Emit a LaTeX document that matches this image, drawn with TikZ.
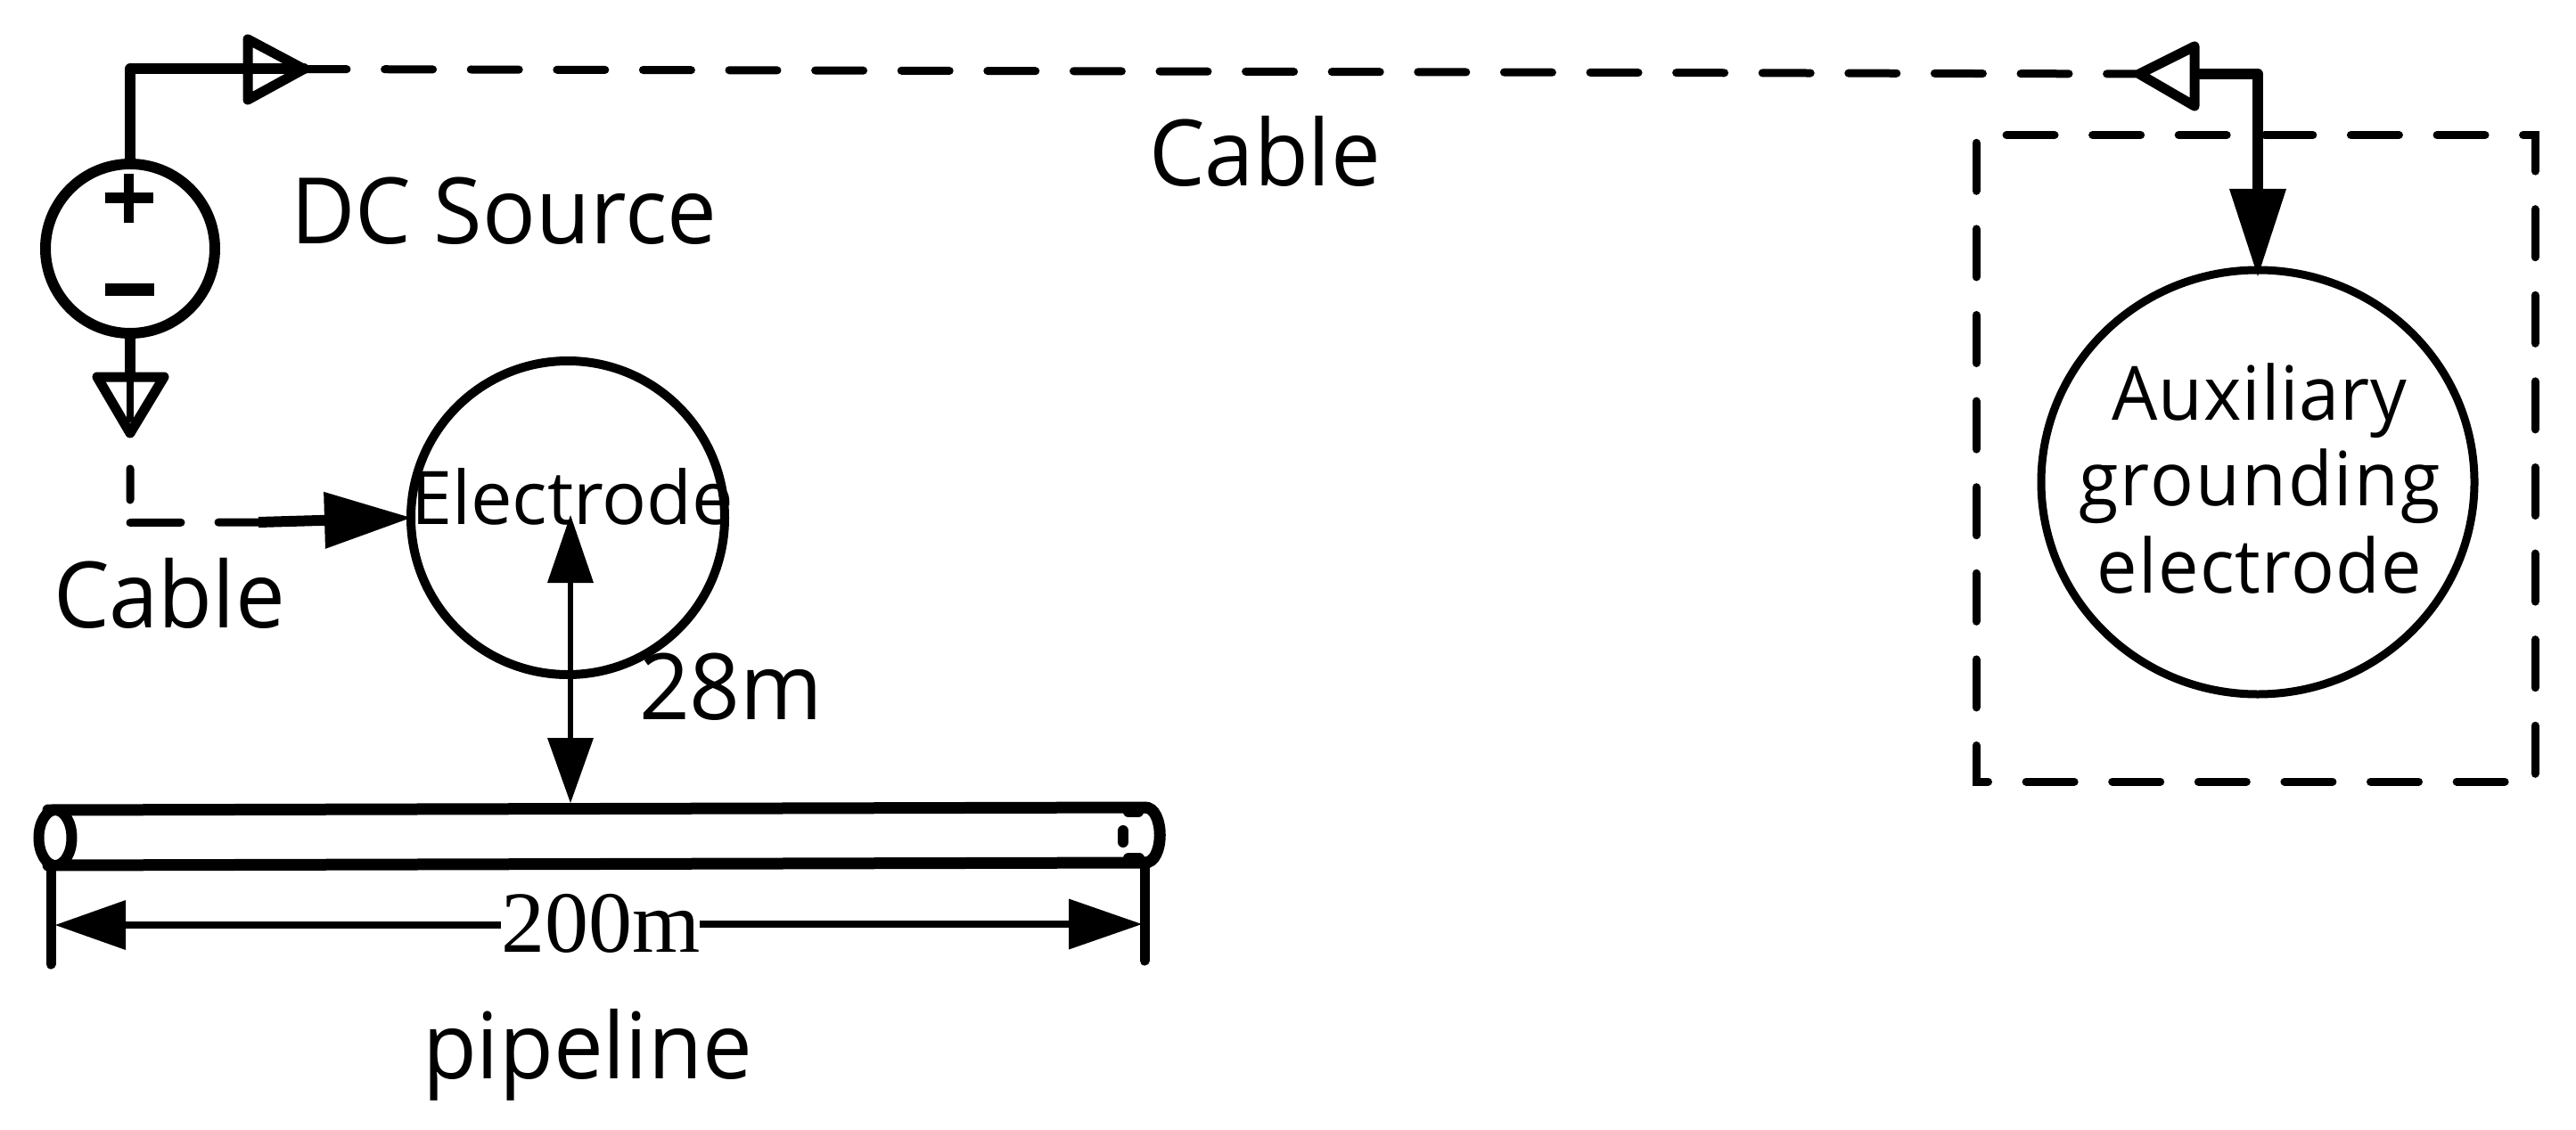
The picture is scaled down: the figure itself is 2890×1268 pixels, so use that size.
\documentclass[tikz,border=0pt]{standalone}
\usepackage{fontspec}
\setmainfont[FakeStretch=0.965]{Open Sans}
\newfontfamily\plainsans{Open Sans}
\newfontfamily\serifnum{Liberation Serif}
\usetikzlibrary{arrows.meta,shapes.geometric}
\tikzset{
  x=1pt,y=-1pt,
  wire/.style={draw=black,line width=12pt,line cap=round,line join=round},
  thin wire/.style={draw=black,line width=8pt,line cap=round,line join=round},
  cable/.style={draw=black,line width=9pt,line cap=round,dash pattern=on 54pt off 42.6pt},
  opentip/.style={draw=black,line width=11pt,line join=round,fill=none},
  solidtip/.style={-{Triangle[length=#1,width=64pt,line width=0pt]}},
  dot/.style={circle,draw=black,inner sep=0pt,outer sep=0pt},
  label/.style={inner sep=0pt,outer sep=0pt,anchor=base west,text=black},
  big/.style={label,font=\fontsize{103}{110}\selectfont},
  mid/.style={label,font=\fontsize{84}{97}\selectfont},
}
\begin{document}
\begin{tikzpicture}
\useasboundingbox (0,0) rectangle (2890,1268);
% source
\node[dot,line width=12pt,minimum size=190pt] (src) at (146,279) {};
\coordinate (pa) at (118,222); \coordinate (pb) at (172,222);
\coordinate (pc) at (144,195); \coordinate (pd) at (144,250);
\coordinate (ma) at (118,325); \coordinate (mb) at (173,325);
\draw[line width=12pt] (pa) -- (pb);
\draw[line width=11pt] (pc) -- (pd);
\draw[line width=14pt] (ma) -- (mb);
% top cable
\coordinate (srccorner) at (146,77.5);
\coordinate (ttip) at (341,77.5);
\coordinate (tb1) at (278,44); \coordinate (tb2) at (278,112);
\draw[wire] (src.north) -- (srccorner) -- (ttip);
\draw[opentip] (tb1) -- (ttip) -- (tb2) -- cycle;
\coordinate (rtip) at (2400,83);
\coordinate (rb1) at (2462,52); \coordinate (rb2) at (2462,119);
\coordinate (rcorner) at (2533,83);
\draw[cable,dash phase=6pt] (ttip) -- (rtip);
\draw[opentip] (rb1) -- (rtip) -- (rb2) -- cycle;
% auxiliary
\node[ellipse,draw=black,line width=9pt,minimum width=486pt,minimum height=476pt,inner sep=0pt] (aux) at (2533,541) {};
\coordinate (auxtip) at (2533,310);
\coordinate (rbase) at (2462,83);
\draw[wire,line cap=butt,solidtip=98pt] (rbase) -- (rcorner) -- (auxtip);
\node[mid,anchor=base] (auxa) at (2535,471) {\addfontfeature{LetterSpace=1}Auxiliary};
\node[mid,anchor=base] (auxb) at (2535,567) {\addfontfeature{LetterSpace=2.5}grounding};
\node[mid,anchor=base] (auxc) at (2535,665) {\addfontfeature{LetterSpace=1.5}electrode};
% dashed box
\coordinate (ba) at (2251,151.5); \coordinate (bb) at (2844,151.5);
\coordinate (bc) at (2844,877); \coordinate (bd) at (2217,877);
\coordinate (be) at (2217,151.5);
\draw[cable,line join=miter] (ba) -- (bb) -- (bc) -- (bd) -- (be);
% lower wire
\coordinate (ltip) at (146,486);
\coordinate (lb1) at (109,423); \coordinate (lb2) at (184,423);
\coordinate (lwire) at (146,470);
\coordinate (lbase) at (146,423);
\draw[thin wire,line width=12pt,line cap=butt] (src.south) -- (lbase);
\draw[thin wire] (lbase) -- (lwire);
\draw[opentip] (lb1) -- (ltip) -- (lb2) -- cycle;
% electrode
\node[dot,line width=10pt,minimum size=352pt] (elec) at (637,581) {};
\coordinate (dstart) at (146,526); \coordinate (dcorner) at (146,586.5);
\coordinate (dthick) at (290,586);
\draw[line width=9pt,line cap=round,dash pattern=on 35pt off 25.5pt on 57pt off 42pt on 400pt off 0pt]
  (dstart) -- (dcorner) -- (dthick);
\draw[line width=12pt,solidtip=97pt] (dthick) -- (elec.west);
\node[label,font=\plainsans\fontsize{83}{90}\selectfont] (elabel) at (461,588) {Electrode};
% labels
\node[big] (dc) at (326,273) {DC Source};
\node[big] (c1) at (1289,208) {Cable};
\node[big] (c2) at (60,704) {Cable};
\node[big] (m28) at (717,807) {28m};
\node[big] (pipe) at (474,1210) {pipeline};
% 28 m arrows
\coordinate (pipetop) at (640,901);
\coordinate (etip) at (640,578);
\draw[line width=6pt,{Triangle[length=76pt,width=52pt,line width=0pt]}-{Triangle[length=73pt,width=52pt,line width=0pt]}] (etip) -- (pipetop);
% pipeline
\coordinate (pl1) at (54,909); \coordinate (pr1) at (1284,906);
\coordinate (pl2) at (54,971); \coordinate (pr2) at (1284,968);
\draw[line width=13pt,line cap=round] (pl1) -- (pr1);
\draw[line width=13pt,line cap=round] (pl2) -- (pr2);
\node[ellipse,draw=black,line width=12pt,minimum width=37pt,minimum height=62pt,inner sep=0pt,fill=white] (pend) at (62,940) {};
\coordinate (ctl1) at (1307,905); \coordinate (ctl2) at (1307,969);
\draw[line width=13pt] (pr1) .. controls (ctl1) and (ctl2) .. (pr2);
\coordinate (ha) at (1260,932); \coordinate (hb) at (1260,945);
\draw[line width=12pt,line cap=round] (ha) -- (hb);
\coordinate (s1a) at (1266,911); \coordinate (s1b) at (1277,911);
\coordinate (s2a) at (1266,963); \coordinate (s2b) at (1278,963);
\draw[line width=12pt,line cap=round] (s1a) -- (s1b);
\draw[line width=12pt,line cap=round] (s2a) -- (s2b);
% 200m dimension
\coordinate (d1a) at (57,970); \coordinate (d1b) at (57,1082);
\coordinate (d2a) at (1284,968); \coordinate (d2b) at (1284,1078);
\draw[line width=11pt,line cap=round] (d1a) -- (d1b);
\draw[line width=11pt,line cap=round] (d2a) -- (d2b);
\node[inner sep=0pt,outer sep=0pt,anchor=base west,font=\serifnum\fontsize{98}{100}\selectfont] (d200) at (562,1068) {200m};
\coordinate (dl) at (62,1038); \coordinate (dr) at (1281,1037);
\draw[line width=8pt,{Triangle[length=79pt,width=56pt,line width=0pt]}-] (dl) -- (d200.west |- dl);
\draw[line width=8pt,-{Triangle[length=82pt,width=57pt,line width=0pt]}] (d200.east |- dr) -- (dr);
\end{tikzpicture}
\end{document}
